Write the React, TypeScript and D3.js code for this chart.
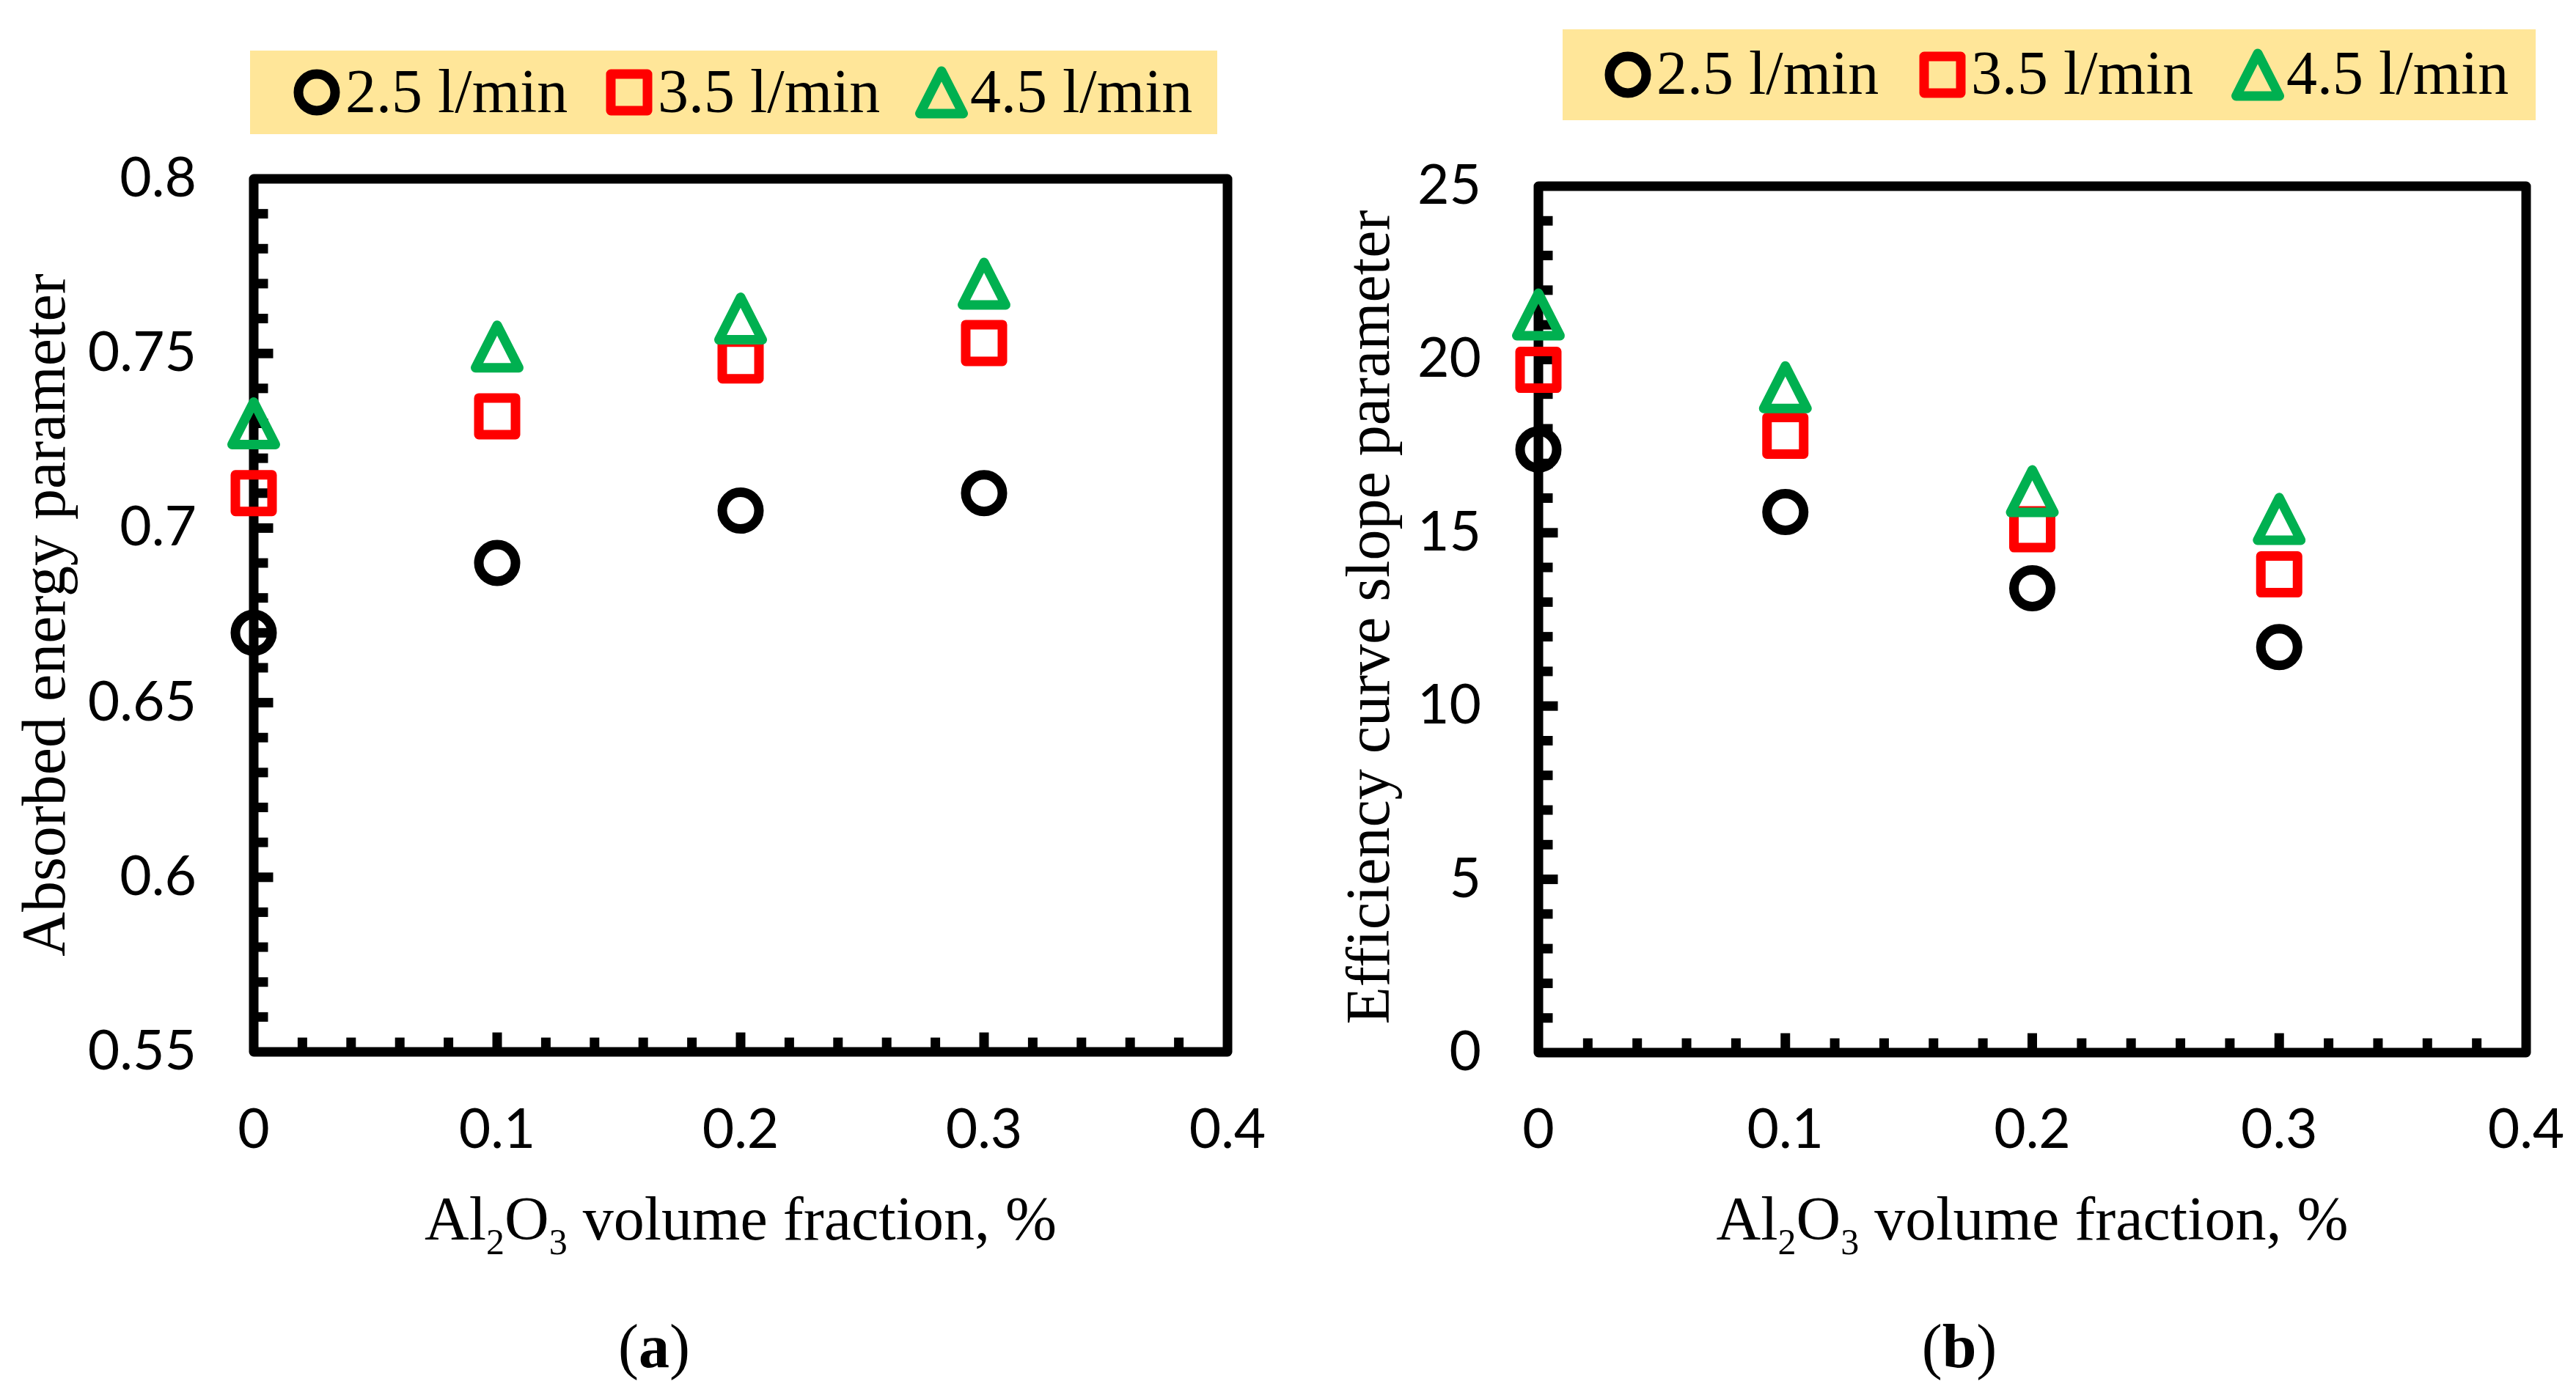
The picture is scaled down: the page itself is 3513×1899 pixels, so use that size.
import * as d3 from 'd3'

// x categories (Al2O3 volume fraction, %)
const fractionTicks = [0, 0.1, 0.2, 0.3, 0.4]
const fractions = [0, 0.1, 0.2, 0.3]
const flowLabels = ['2.5 l/min', '3.5 l/min', '4.5 l/min']

// (a) absorbed energy parameter
const absorbedTicks = [0.55, 0.6, 0.65, 0.7, 0.75, 0.8]
const absorbed25 = [0.670, 0.690, 0.705, 0.710]
const absorbed35 = [0.710, 0.732, 0.748, 0.753]
const absorbed45 = [0.730, 0.752, 0.760, 0.770]

// (b) efficiency curve slope parameter
const slopeTicks = [0, 5, 10, 15, 20, 25]
const slope25 = [17.4, 15.6, 13.4, 11.7]
const slope35 = [19.7, 17.8, 15.1, 13.8]
const slope45 = [21.3, 19.2, 16.2, 15.4]

type Shape = 'circle' | 'square' | 'triangle'
const shapes: Shape[] = ['circle', 'square', 'triangle']
const colors = ['#000000', '#FF0000', '#00B050']

const SERIF = "'Liberation Serif', 'Times New Roman', serif"
const SANS = "Lato, Carlito, Calibri, sans-serif"
const LW = 13

function Marker({ shape, cx, cy, color }: { shape: Shape; cx: number; cy: number; color: string }) {
  const common = { fill: 'none', stroke: color, strokeWidth: LW, strokeLinejoin: 'round' as const }
  if (shape === 'circle') return <circle cx={cx} cy={cy} r={25} {...common} />
  if (shape === 'square') return <rect x={cx - 25} y={cy - 25} width={50} height={50} {...common} />
  const p = d3.path()
  p.moveTo(cx, cy - 29)
  p.lineTo(cx + 29.5, cy + 29)
  p.lineTo(cx - 29.5, cy + 29)
  p.closePath()
  return <path d={p.toString()} {...common} />
}

interface Layout {
  left: number
  right: number
  top: number
  bottom: number
  majorY: number
  titleX: number
  titleY: number
  legend: { x: number; y: number; w: number; h: number; items: number[]; markerY: number; baseline: number }
  captionX: number
}

function Panel({ layout, yTicks, series, title, caption }: {
  layout: Layout
  yTicks: number[]
  series: number[][]
  title: string
  caption: string
}) {
  const { left, right, top, bottom, legend } = layout
  const x = d3.scaleLinear().domain([0, 0.4]).range([left, right])
  const y = d3.scaleLinear().domain(d3.extent(yTicks) as [number, number]).range([bottom, top])

  const isMajor = (v: number, step: number) => Math.abs(v / step - Math.round(v / step)) < 1e-6
  const xMinor = x.ticks(20).filter(v => v > 0 && v < 0.4)
  const [y0, y1] = y.domain()
  const yMinor = y.ticks(25).filter(v => v > y0 + 1e-9 && v < y1 - 1e-9)

  return (
    <g>
      {/* legend */}
      <rect x={legend.x} y={legend.y} width={legend.w} height={legend.h} fill="#FFE699" />
      {flowLabels.map((lab, i) => (
        <g key={lab}>
          <Marker shape={shapes[i]} cx={legend.items[i]} cy={legend.markerY} color={colors[i]} />
          <text x={legend.items[i] + 39} y={legend.baseline} fontFamily={SERIF} fontSize={84}>{lab}</text>
        </g>
      ))}

      {/* frame */}
      <rect x={left} y={top} width={right - left} height={bottom - top}
        fill="none" stroke="#000" strokeWidth={LW} strokeLinejoin="round" />

      {/* y ticks */}
      {yMinor.map(v => (
        <line key={'y' + v} x1={left} x2={left + (isMajor(v, layout.majorY) ? 26.5 : 19.5)}
          y1={y(v)} y2={y(v)} stroke="#000" strokeWidth={LW} />
      ))}
      {/* x ticks */}
      {xMinor.map(v => (
        <line key={'x' + v} y1={bottom} y2={bottom - (isMajor(v, 0.1) ? 26.5 : 19.5)}
          x1={x(v)} x2={x(v)} stroke="#000" strokeWidth={LW} />
      ))}

      {/* tick labels */}
      {yTicks.map(v => (
        <text key={'yl' + v} x={left - 78} y={y(v) + 24} textAnchor="end" fontFamily={SANS} fontSize={75}>
          {String(v)}
        </text>
      ))}
      {fractionTicks.map(v => (
        <text key={'xl' + v} x={x(v)} y={1566} textAnchor="middle" fontFamily={SANS} fontSize={75}>
          {String(v)}
        </text>
      ))}

      {/* data */}
      {series.map((vals, i) => (
        <g key={'s' + i}>
          {vals.map((v, j) => (
            <Marker key={j} shape={shapes[i]} cx={x(fractions[j])} cy={y(v)} color={colors[i]} />
          ))}
        </g>
      ))}

      {/* axis titles */}
      <text transform={`translate(${layout.titleX},${layout.titleY}) rotate(-90)`} textAnchor="middle"
        fontFamily={SERIF} fontSize={84}>{title}</text>
      <text x={(left + right) / 2} y={1691} textAnchor="middle" fontFamily={SERIF} fontSize={84}>
        Al<tspan fontSize={50} dy={20}>2</tspan><tspan dy={-20}>O</tspan><tspan fontSize={50} dy={20}>3</tspan>
        <tspan dy={-20}> volume fraction, %</tspan>
      </text>
      <text x={layout.captionX} y={1865} textAnchor="middle" fontFamily={SERIF} fontSize={84}>
        (<tspan fontWeight="bold">{caption}</tspan>)
      </text>
    </g>
  )
}

const layoutA: Layout = {
  left: 346, right: 1674, top: 244, bottom: 1435, majorY: 0.05,
  titleX: 88, titleY: 839,
  legend: { x: 341, y: 69, w: 1319, h: 114, items: [432, 858, 1284], markerY: 126, baseline: 153 },
  captionX: 892,
}

const layoutB: Layout = {
  left: 2098, right: 3445, top: 254, bottom: 1436, majorY: 5,
  titleX: 1894, titleY: 842,
  legend: { x: 2131, y: 40, w: 1327, h: 124, items: [2220, 2649, 3079], markerY: 102, baseline: 128 },
  captionX: 2672,
}

export default function App() {
  return (
    <svg width={3513} height={1899} viewBox="0 0 3513 1899"
      style={{ position: 'absolute', left: 0, top: 0, display: 'block', background: '#fff' }}>
      <rect width={3513} height={1899} fill="#fff" />
      <Panel layout={layoutA} yTicks={absorbedTicks} series={[absorbed25, absorbed35, absorbed45]}
        title="Absorbed energy parameter" caption="a" />
      <Panel layout={layoutB} yTicks={slopeTicks} series={[slope25, slope35, slope45]}
        title="Efficiency curve slope parameter" caption="b" />
    </svg>
  )
}
